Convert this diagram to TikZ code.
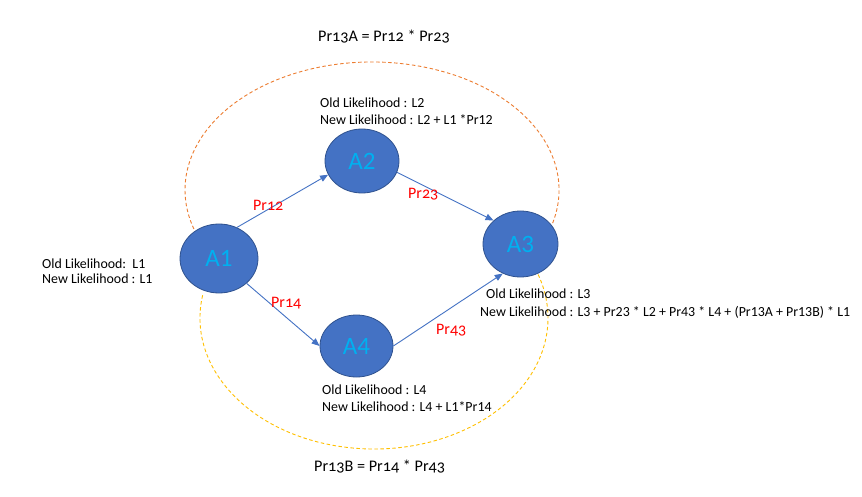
\documentclass[tikz,border=0pt]{standalone}
\usepackage{fontspec}
\setmainfont{Carlito}
\newfontfamily\oldnum{Carlito}[Numbers=OldStyle]
\usetikzlibrary{arrows.meta,shapes.geometric}
\definecolor{nodefill}{HTML}{4472C4}
\definecolor{nodeline}{HTML}{2F528F}
\definecolor{nodetext}{HTML}{00B0F0}
\definecolor{arcorange}{HTML}{ED7D31}
\definecolor{arcyellow}{HTML}{FFC000}
\definecolor{prred}{HTML}{FF0000}
\definecolor{txtgray}{HTML}{000000}
\tikzset{
  state/.style={ellipse, fill=nodefill, draw=nodeline, line width=0.8pt, inner sep=0pt,
    text=nodetext, font=\fontsize{25}{30}\selectfont},
  link/.style={draw=nodefill, line width=0.9pt, -{Triangle[length=8pt,width=6.5pt]}},
  prlab/.style={text=prred, inner sep=0pt, anchor=base west, font=\oldnum\fontsize{16}{19}\selectfont},
  info/.style={text=txtgray, inner sep=0pt, anchor=base west, font=\fontsize{13.9}{17}\selectfont},
  formula/.style={text=txtgray, inner sep=0pt, anchor=base west, font=\oldnum\fontsize{16.2}{19}\selectfont},
  arcline/.style={line width=0.9pt, dash pattern=on 3.5pt off 2.5pt},
}
\begin{document}
\begin{tikzpicture}[x=1pt,y=1pt]
\useasboundingbox (0,0) rectangle (862,496);
\fill[white] (0,0) rectangle (862,496);
% dashed arcs
\coordinate (oc) at (372,306);
\coordinate (yc) at (374,178);
\draw[arcline, draw=arcorange] ([shift={(-15:187pt and 128pt)}]oc) arc[start angle=-15, end angle=198, x radius=187pt, y radius=128pt];
\draw[arcline, draw=arcyellow] ([shift={(170:174pt and 131pt)}]yc) arc[start angle=170, end angle=380, x radius=174pt, y radius=131pt];
% nodes
\node[state, minimum width=78pt, minimum height=69pt] (A1) at (219,237.5) {A1};
\node[state, minimum width=74pt, minimum height=64pt] (A2) at (362,335) {A2};
\node[state, minimum width=75pt, minimum height=66pt] (A3) at (520.5,252) {A3};
\node[state, minimum width=73pt, minimum height=62pt] (A4) at (356.5,150) {A4};
% connectors
\draw[link] (A1.60) -- (A2.202);
\draw[link] (A2.-18) -- (A3.139);
\draw[link] (A1.-42) -- (A4.180);
\draw[link] (A4.0) -- (A3.239);
% probability labels
\node[prlab] (p12) at (253,285) {Pr12};
\node[prlab] (p23) at (408,297) {Pr23};
\node[prlab] (p14) at (271,188.3) {Pr14};
\node[prlab] (p43) at (436,162) {Pr43};
% likelihood texts
\node[info] (l1a) at (42,228) {Old Likelihood:\ \ L1};
\node[info] (l1b) at (42,212) {New Likelihood : L1};
\node[info] (l2a) at (320,388.3) {Old Likelihood : L2};
\node[info] (l2b) at (320,371.7) {New Likelihood : L2 + L1 *Pr12};
\node[info] (l3a) at (486,197.3) {Old Likelihood : L3};
\node[info] (l3b) at (480,179.3) {New Likelihood : L3 + Pr23 * L2 + Pr43 * L4 + (Pr13A + Pr13B) * L1};
\node[info] (l4a) at (322,101.7) {Old Likelihood : L4};
\node[info] (l4b) at (322,85) {New Likelihood : L4 + L1*Pr14};
% formulas
\node[formula] (f1) at (318,454.3) {Pr13A = Pr12 * Pr23};
\node[formula] (f2) at (314,24.3) {Pr13B = Pr14 * Pr43};
\end{tikzpicture}
\end{document}
